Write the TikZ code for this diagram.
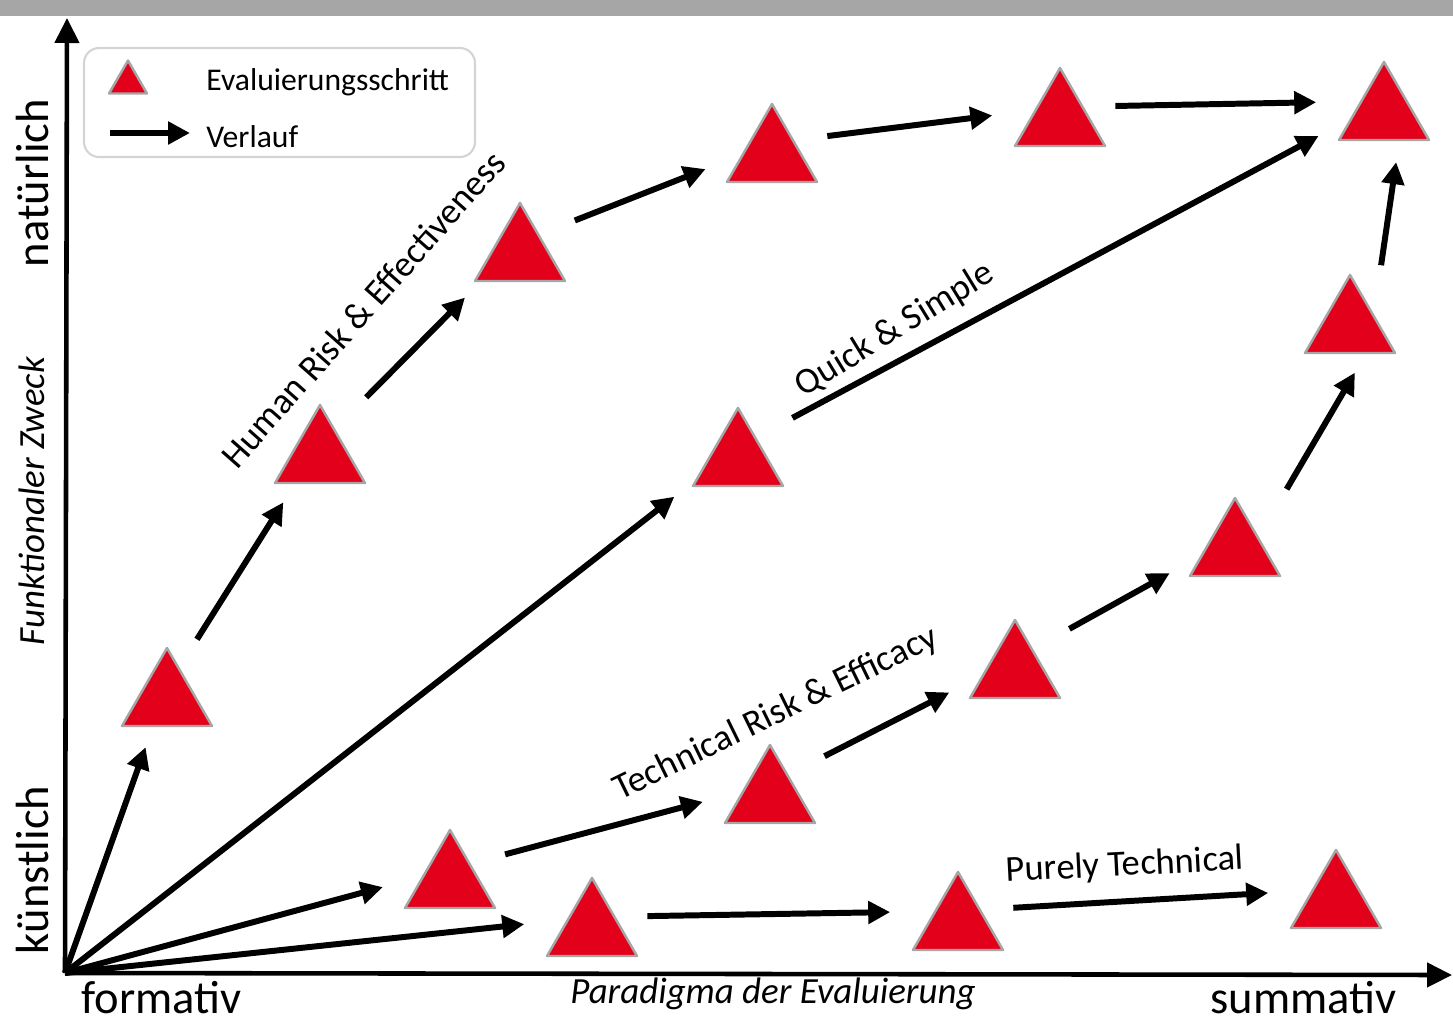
\documentclass[tikz,border=0pt]{standalone}
\usepackage{fontspec}
\setmainfont{Carlito}
\usetikzlibrary{arrows.meta,calc}
\definecolor{StepRed}{RGB}{226,0,26}
\definecolor{StepGray}{RGB}{166,166,166}
\definecolor{BarGray}{RGB}{166,166,166}
\definecolor{LegendGray}{RGB}{212,212,212}
\tikzset{
  >=Triangle,
  evalstep/.style={minimum width=1.9cm,minimum height=1.64cm,inner sep=0pt,
    path picture={\filldraw[fill=StepRed,draw=StepGray,line width=1.4pt,line join=round]
      ([shift={(0.05cm,0.04cm)}]path picture bounding box.south west) --
      ([shift={(-0.05cm,0.04cm)}]path picture bounding box.south east) --
      ([yshift=-0.04cm]path picture bounding box.north) -- cycle;}},
  flow/.style={-{Triangle[length=0.44cm,width=0.44cm]},line width=3.4pt,shorten >=0.4cm,shorten <=0.15cm},
  axis/.style={-{Triangle[length=0.5cm,width=0.48cm]},line width=2.6pt},
  legendbox/.style={draw=LegendGray,line width=1.2pt,rounded corners=0.3cm,minimum width=7.82cm,minimum height=2.18cm},
  legendtext/.style={font=\fontsize{18}{21}\selectfont,anchor=base west,inner sep=0pt},
  pathlabel/.style={font=\fontsize{20.8}{24}\selectfont},
  axisend/.style={font=\fontsize{26.5}{30}\selectfont,inner sep=0pt},
  axistitle/.style={font=\fontsize{21}{24}\selectfont\itshape,inner sep=0pt}
}
\begin{document}
\begin{tikzpicture}[x=0.02cm,y=-0.02cm]
  \useasboundingbox (0,0) rectangle (1453,1021);
  \fill[BarGray] (0,0) rectangle (1453,16);
  % axes
  \coordinate (o) at (65,973);
  \coordinate (ytip) at (67,18);
  \coordinate (xtip) at (1452,975);
  \draw[axis] (o) -- (ytip);
  \draw[axis] (o) -- (xtip);
  \node[axisend,anchor=base west] (formativ) at (81,1013) {formativ};
  \node[axisend,anchor=base west] (summativ) at (1210,1013) {summativ};
  \node[axistitle,anchor=base west] (xtitle) at (570,1003) {Paradigma der Evaluierung};
  \node[axisend,rotate=90,anchor=base] (natural) at (48,183) {natürlich};
  \node[axisend,rotate=90,anchor=base] (artificial) at (48,870) {künstlich};
  \node[axistitle,rotate=90,anchor=base] (ytitle) at (44,501) {Funktionaler Zweck};
  % legend
  \node[legendbox] (legend) at (279.5,102.5) {};
  \node[evalstep,minimum width=0.86cm,minimum height=0.74cm] (legstep) at (128,77) {};
  \node[legendtext] (legstepText) at (206,90) {Evaluierungsschritt};
  \coordinate (legA) at (110,133);
  \coordinate (legB) at (190,133);
  \draw[flow,shorten >=0pt,shorten <=0pt] (legA) -- (legB);
  \node[legendtext] (legflowText) at (206,147) {Verlauf};
  % evaluation steps
  \foreach \i/\x/\y in {1/167/687,2/320/444,3/520/242,4/772/143,5/1060/107,6/1384/101,
    7/738/447,8/450/869,9/770/784,10/1015/659,11/1235/537,12/1350/314,
    13/592/917,14/958/911,15/1336/889}{
    \node[evalstep] (s\i) at (\x,\y) {};
  }
  \foreach \j in {1,7,8,13}{\draw[flow,shorten <=0pt] (o) -- (s\j);}
  \foreach \a/\b in {1/2,2/3,3/4,4/5,5/6,7/6,8/9,9/10,10/11,13/14,14/15}{
    \draw[flow] (s\a) -- (s\b);
  }
  \draw[flow] (s11.north east) -- ([xshift=0.3cm]s12.south);
  \draw[flow] ([xshift=0.6cm]s12.north) -- ([xshift=0.3cm]s6.south);
  % strategy labels
  \node[pathlabel,rotate=48.5] (human) at (363,309) {Human Risk \& Effectiveness};
  \node[pathlabel,rotate=31.5] (quick) at (895,330) {Quick \& Simple};
  \node[pathlabel,rotate=26] (technical) at (776,714) {Technical Risk \& Efficacy};
  \node[pathlabel,rotate=3] (pure) at (1125,866) {Purely Technical};
\end{tikzpicture}
\end{document}
